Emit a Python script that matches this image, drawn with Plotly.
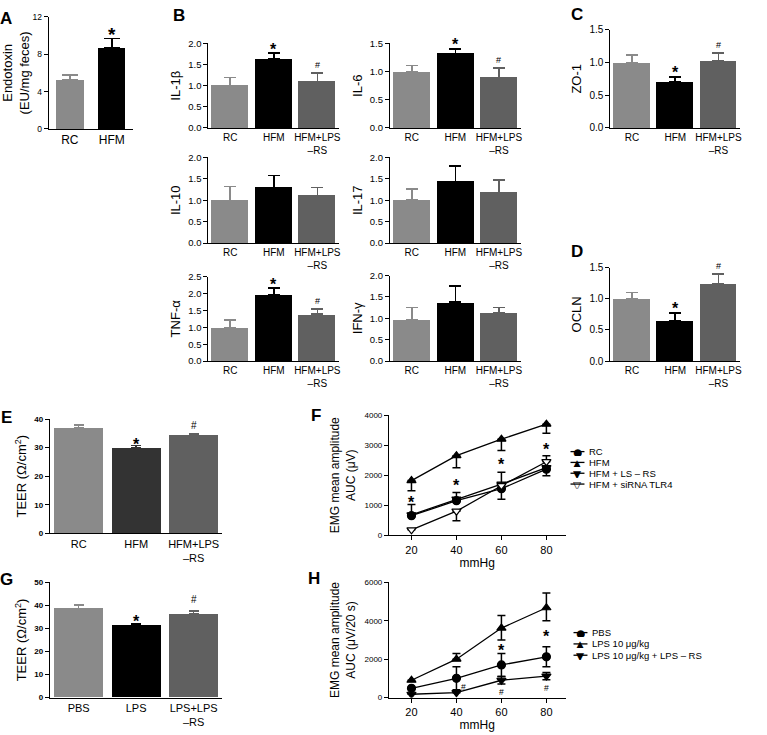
import plotly.graph_objects as go

W, H = 767, 735
FONT = "Liberation Sans"

# ---------------- data ----------------
a_cats = ["RC", "HFM"]
a_vals = [5.25, 8.7]
a_errs = [0.55, 1.0]

b_cats = ["RC", "HFM", "HFM+LPS<br>–RS"]
il1b_vals = [1.0, 1.63, 1.09]
il1b_errs = [0.19, 0.14, 0.21]
il6_vals = [0.99, 1.32, 0.89]
il6_errs = [0.12, 0.08, 0.17]
il10_vals = [0.99, 1.29, 1.11]
il10_errs = [0.33, 0.29, 0.19]
il17_vals = [1.0, 1.43, 1.18]
il17_errs = [0.27, 0.37, 0.29]
tnf_vals = [0.98, 1.97, 1.39]
tnf_errs = [0.24, 0.19, 0.15]
ifn_vals = [0.97, 1.38, 1.13]
ifn_errs = [0.28, 0.37, 0.12]
zo1_vals = [1.0, 0.70, 1.03]
zo1_errs = [0.11, 0.08, 0.11]
ocln_vals = [1.0, 0.65, 1.24]
ocln_errs = [0.10, 0.12, 0.16]

e_cats = ["RC", "HFM", "HFM+LPS<br>–RS"]
e_vals = [37.0, 30.0, 34.4]
e_errs = [1.0, 0.7, 0.6]
g_cats = ["PBS", "LPS", "LPS+LPS<br>–RS"]
g_vals = [38.6, 31.2, 36.3]
g_errs = [1.5, 0.8, 1.3]

a_marks = [(1, 10.5, "*")]
il1b_marks = [(1, 1.93, "*"), (2, 1.49, "#")]
il6_marks = [(1, 1.53, "*"), (2, 1.20, "#")]
tnf_marks = [(1, 2.35, "*"), (2, 1.77, "#")]
zo1_marks = [(1, 0.90, "*"), (2, 1.27, "#")]
ocln_marks = [(1, 0.90, "*"), (2, 1.52, "#")]
e_marks = [(1, 32.4, "*"), (2, 37.9, "#")]
g_marks = [(1, 34.6, "*"), (2, 42.7, "#")]

mmhg = [20, 40, 60, 80]
f_names = ["RC", "HFM", "HFM + LS – RS", "HFM + siRNA TLR4"]
f_rc = [650, 1150, 1550, 2200]
f_rc_up = [0, 0, 0, 0]
f_rc_dn = [0, 0, 350, 220]
f_hfm = [1820, 2650, 3200, 3700]
f_hfm_up = [0, 0, 0, 0]
f_hfm_dn = [340, 400, 380, 300]
f_lsrs = [680, 1200, 1700, 2250]
f_lsrs_up = [340, 220, 400, 0]
f_lsrs_dn = [0, 0, 0, 0]
f_sirna = [180, 800, 1650, 2450]
f_sirna_up = [0, 0, 0, 200]
f_sirna_dn = [0, 320, 0, 0]
f_marks = [(20, 1190, "*"), (40, 1750, "*"), (60, 2475, "*"), (80, 2970, "*")]

h_names = ["PBS", "LPS 10 μg/kg", "LPS 10 μg/kg + LPS – RS"]
h_pbs = [480, 1000, 1700, 2120]
h_pbs_up = [0, 600, 600, 530]
h_pbs_dn = [0, 600, 600, 520]
h_lps = [900, 2000, 3620, 4680]
h_lps_up = [0, 300, 650, 770]
h_lps_dn = [0, 0, 620, 680]
h_rs = [170, 250, 900, 1120]
h_rs_up = [0, 0, 200, 180]
h_rs_dn = [0, 0, 200, 200]
h_marks = [(60, 2600, "*"), (80, 3350, "*"), (43, 560, "#"), (60, 300, "#"), (80, 510, "#")]

C_RC, C_HFM, C_RS, C_DARK = "#8a8a8a", "#000000", "#606060", "#333333"

fig = go.Figure()
layout = {}
annotations = []
shapes = []
counter = [0]


def dom(l, r, t, b):
    return [l / W, r / W], [1 - b / H, 1 - t / H]


def new_axes(box):
    counter[0] += 1
    i = counter[0]
    xn = "x" if i == 1 else f"x{i}"
    yn = "y" if i == 1 else f"y{i}"
    xk = "xaxis" if i == 1 else f"xaxis{i}"
    yk = "yaxis" if i == 1 else f"yaxis{i}"
    xd, yd = dom(*box)
    return xn, yn, xk, yk, xd, yd


def add_marks(marks, xn, yn, top, box, star_size, hash_size):
    px_per_unit = (box[3] - box[2]) / top
    for (xv, yv, s) in marks:
        size = star_size if s == "*" else hash_size
        shift = -0.2 * size if s == "*" else 0
        y = yv
        if yv > top * 0.99:  # annotations beyond the axis range are hidden: clamp + shift
            y = top * 0.99
            shift += (yv - y) * px_per_unit
        annotations.append(dict(x=xv, y=y, xref=xn, yref=yn, text=s, showarrow=False,
                                font=dict(family=FONT, size=size, color="black",
                                          weight="bold" if s == "*" else "normal"),
                                yshift=shift))


def bar_panel(box, cats, vals, errs, colors, top, tickvals, ytitle, tickfmt,
              tickfont, catfont, titlefont, bw, cap, marks, star=16, hsh=9, bold_ticks=False):
    xn, yn, xk, yk, xd, yd = new_axes(box)
    for i, (v, e, c) in enumerate(zip(vals, errs, colors)):
        fig.add_trace(go.Bar(x=[i], y=[v], width=bw, marker=dict(color=c, line=dict(width=0)),
                             error_y=dict(type="data", symmetric=False, array=[e], arrayminus=[0],
                                          color=c, thickness=1.6, width=cap),
                             xaxis=xn, yaxis=yn, showlegend=False, hoverinfo="skip"))
    layout[xk] = dict(domain=xd, anchor=yn, range=[-0.5, len(cats) - 0.5], tickvals=list(range(len(cats))),
                      ticktext=cats, showline=True, linecolor="black", linewidth=1.2, ticks="",
                      showgrid=False, zeroline=False, tickfont=dict(family=FONT, size=catfont, color="black"))
    layout[yk] = dict(domain=yd, anchor=xn, range=[0, top], tickvals=tickvals, tickformat=tickfmt,
                      showline=True, linecolor="black", linewidth=1.2, ticks="outside", ticklen=4,
                      tickwidth=1, tickcolor="black", showgrid=False, zeroline=False,
                      tickfont=dict(family=FONT, size=tickfont, color="black",
                                    weight="bold" if bold_ticks else "normal"),
                      title=dict(text=ytitle, font=dict(family=FONT, size=titlefont, color="black"),
                                 standoff=4))
    add_marks(marks, xn, yn, top, box, star, hsh)


three = [C_RC, C_HFM, C_RS]
bar_panel((49, 133, 11, 125), a_cats, a_vals, a_errs, [C_RC, C_HFM], 12, [0, 4, 8, 12],
          "Endotoxin<br>(EU/mg feces)", "d", 8.5, 12, 13, 0.65, 8, a_marks, star=19)
bt = [0, 0.5, 1.0, 1.5, 2.0]
bar_panel((209, 340, 38, 124), b_cats, il1b_vals, il1b_errs, three, 2.0, bt, "IL-1β", ".1f",
          9.5, 10, 13, 0.85, 6, il1b_marks)
bar_panel((391, 522, 38, 124), b_cats, il6_vals, il6_errs, three, 1.5, [0, 0.5, 1.0, 1.5], "IL-6", ".1f",
          9.5, 10, 13, 0.85, 6, il6_marks)
bar_panel((209, 340, 154, 241), b_cats, il10_vals, il10_errs, three, 2.0, bt, "IL-10", ".1f",
          9.5, 10, 13, 0.85, 6, [])
bar_panel((391, 522, 154, 241), b_cats, il17_vals, il17_errs, three, 2.0, bt, "IL-17", ".1f",
          9.5, 10, 13, 0.85, 6, [])
bar_panel((209, 340, 275, 361), b_cats, tnf_vals, tnf_errs, three, 2.5, [0, 0.5, 1.0, 1.5, 2.0, 2.5],
          "TNF-α", ".1f", 9.5, 10, 13, 0.85, 6, tnf_marks)
bar_panel((391, 522, 274, 361), b_cats, ifn_vals, ifn_errs, three, 2.0, bt, "IFN-γ", ".1f",
          9.5, 10, 13, 0.85, 6, [])
bar_panel((612, 742, 24, 124), b_cats, zo1_vals, zo1_errs, three, 1.5, [0, 0.5, 1.0, 1.5], "ZO-1", ".1f",
          10, 10, 13, 0.85, 6, zo1_marks)
bar_panel((612, 742, 266, 361), b_cats, ocln_vals, ocln_errs, three, 1.5, [0, 0.5, 1.0, 1.5], "OCLN", ".1f",
          10, 10, 13, 0.85, 6, ocln_marks)
bar_panel((50, 223, 420, 536), e_cats, e_vals, e_errs, [C_RC, C_DARK, C_RS], 40, [0, 10, 20, 30, 40],
          "TEER (Ω/cm<sup>2</sup>)", "d", 8, 11, 13, 0.85, 5, e_marks, star=16, hsh=10, bold_ticks=True)
bar_panel((50, 223, 586, 703), g_cats, g_vals, g_errs, three, 50, [0, 10, 20, 30, 40, 50],
          "TEER (Ω/cm<sup>2</sup>)", "d", 8, 11, 13, 0.85, 5, g_marks, star=16, hsh=10, bold_ticks=True)

GLYPH = {"circle": "●", "triangle-up": "▲", "triangle-down": "▼"}


def line_panel(box, series, ytop, ytickvals, ytitle, marks, leg_x, leg_y, leg_dy):
    xn, yn, xk, yk, xd, yd = new_axes(box)
    for k, (name, vals, up, dn, sym, fill) in enumerate(series):
        fig.add_trace(go.Scatter(x=mmhg, y=vals, name=name, mode="lines+markers",
                                 line=dict(color="black", width=1.3),
                                 marker=dict(symbol=sym, size=8, color=fill,
                                             line=dict(color="black", width=1.2)),
                                 error_y=dict(type="data", symmetric=False, array=up, arrayminus=dn,
                                              color="black", thickness=1.5, width=4),
                                 xaxis=xn, yaxis=yn, showlegend=False, hoverinfo="skip"))
        # compact legend entry (line + glyph + label)
        py = leg_y + k * leg_dy
        shapes.append(dict(type="line", xref="paper", yref="paper", x0=(leg_x - 7) / W, x1=(leg_x + 7) / W,
                           y0=1 - py / H, y1=1 - py / H, line=dict(color="black", width=1.3)))
        glyph = GLYPH[sym] if fill != "white" else "▽"
        annotations.append(dict(x=leg_x / W, y=1 - py / H, xref="paper", yref="paper", text=glyph,
                                showarrow=False, xanchor="center", yanchor="middle", height=9,
                                font=dict(family="DejaVu Sans", size=10.5, color="black")))
        annotations.append(dict(x=(leg_x + 10) / W, y=1 - py / H, xref="paper", yref="paper", text=name,
                                showarrow=False, xanchor="left", yanchor="middle",
                                font=dict(family=FONT, size=9.5, color="black")))
    layout[xk] = dict(domain=xd, anchor=yn, range=[10, 88.5], tickvals=mmhg, showline=True,
                      linecolor="black", linewidth=1.2, ticks="outside", ticklen=4, tickcolor="black",
                      showgrid=False, zeroline=False, tickfont=dict(family=FONT, size=11, color="black"),
                      title=dict(text="mmHg", font=dict(family=FONT, size=12, color="black"), standoff=2))
    layout[yk] = dict(domain=yd, anchor=xn, range=[0, ytop], tickvals=ytickvals, showline=True,
                      linecolor="black", linewidth=1.2, ticks="outside", ticklen=4, tickcolor="black",
                      showgrid=False, zeroline=False, tickfont=dict(family=FONT, size=8, color="black"),
                      title=dict(text=ytitle, font=dict(family=FONT, size=12, color="black"), standoff=6))
    add_marks(marks, xn, yn, ytop, box, 16, 8.5)


line_panel((390, 567, 416, 538), [
    (f_names[0], f_rc, f_rc_up, f_rc_dn, "circle", "black"),
    (f_names[1], f_hfm, f_hfm_up, f_hfm_dn, "triangle-up", "black"),
    (f_names[2], f_lsrs, f_lsrs_up, f_lsrs_dn, "triangle-down", "black"),
    (f_names[3], f_sirna, f_sirna_up, f_sirna_dn, "triangle-down", "white"),
], 4000, [0, 1000, 2000, 3000, 4000], "EMG mean amplitude<br>AUC (μV)", f_marks, 579, 453, 11)

line_panel((390, 567, 586, 703), [
    (h_names[0], h_pbs, h_pbs_up, h_pbs_dn, "circle", "black"),
    (h_names[1], h_lps, h_lps_up, h_lps_dn, "triangle-up", "black"),
    (h_names[2], h_rs, h_rs_up, h_rs_dn, "triangle-down", "black"),
], 6000, [0, 2000, 4000, 6000], "EMG mean amplitude<br>AUC (μV/20 s)", h_marks, 582, 637, 11.5)

for (txt, px, py) in [("A", 6, 13), ("B", 179, 10), ("C", 579, 9), ("D", 579, 250),
                      ("E", 7, 418), ("F", 317, 416), ("G", 7, 583), ("H", 315, 582)]:
    annotations.append(dict(x=px / W, y=1 - py / H, xref="paper", yref="paper", text=txt,
                            showarrow=False, xanchor="center", yanchor="middle",
                            font=dict(family=FONT, size=17, color="black", weight="bold")))

fig.update_layout(
    width=W, height=H, margin=dict(l=0, r=0, t=0, b=0),
    paper_bgcolor="white", plot_bgcolor="white",
    font=dict(family=FONT, color="black"),
    bargap=0, showlegend=False, annotations=annotations, shapes=shapes,
    **layout,
)

fig.write_html("out.html", config={"displayModeBar": False},
               post_script="document.body.style.margin='0px';")
